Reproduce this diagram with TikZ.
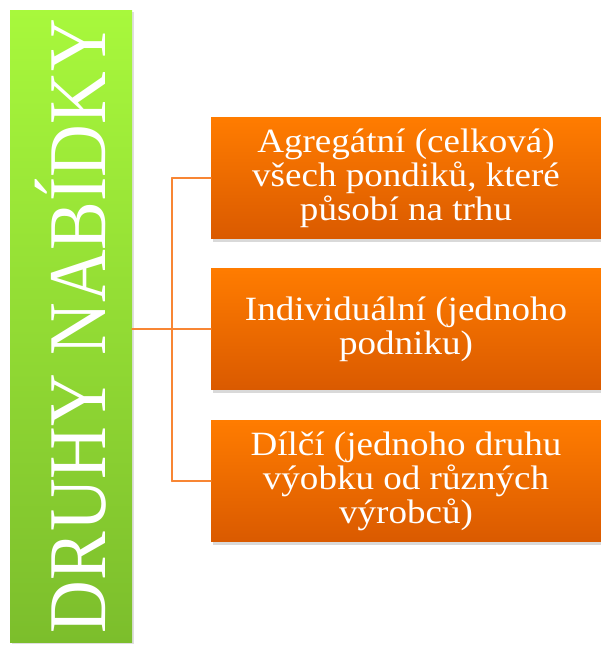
\documentclass[tikz,border=0pt]{standalone}
\usepackage{fontspec}
\setmainfont{Liberation Serif}
\newfontfamily\boxfont[FakeStretch=1.09]{Liberation Serif}
\newfontfamily\barfont[FakeStretch=0.89]{Liberation Serif}
\usetikzlibrary{positioning,shadows}
\definecolor{barTop}{RGB}{168,248,60}
\definecolor{barBot}{RGB}{124,190,44}
\definecolor{boxTop}{RGB}{255,124,0}
\definecolor{boxBot}{RGB}{218,90,0}
\definecolor{linkCol}{RGB}{248,134,52}
\begin{document}
\begin{tikzpicture}[x=1pt, y=-1pt, line join=round, line cap=round]
	\tikzset{
		druhbar/.style={minimum width=122pt, minimum height=632pt, inner sep=0pt, top color=barTop, bottom color=barBot, drop shadow={opacity=0.25, shadow xshift=2pt, shadow yshift=-2pt}},
		druhbox/.style={minimum width=390pt, minimum height=121pt, inner sep=0pt, top color=boxTop, bottom color=boxBot, text=white, align=center, font=\boxfont\fontsize{34}{34}\selectfont, drop shadow={opacity=0.3, shadow xshift=2pt, shadow yshift=-3pt}},
		link/.style={draw=linkCol, line width=2pt}
	}
	\useasboundingbox (0,0) rectangle (601,645);
	\node[druhbar] (bar) at (71,326) {};
	\node[rotate=90, text=white, font=\barfont\fontsize{82}{82}\selectfont] (nadpis) at (bar.center) {DRUHY NABÍDKY};
	\node[druhbox] (agreg) at (406,178) {Agregátní (celková)\\všech pondiků, které\\působí na trhu};
	\node[druhbox] (indiv) at (406,329) {Individuální (jednoho\\podniku)};
	\node[druhbox] (dilci) at (406,481) {Dílčí (jednoho druhu\\výobku od různých\\výrobců)};
	\coordinate (fork) at (172,329);
	\draw[link] (bar.east |- indiv.west) -- (indiv.west);
	\draw[link] (fork |- agreg.west) -- (fork |- dilci.west);
	\draw[link] (fork |- agreg.west) -- (agreg.west);
	\draw[link] (fork |- dilci.west) -- (dilci.west);
\end{tikzpicture}
\end{document}
